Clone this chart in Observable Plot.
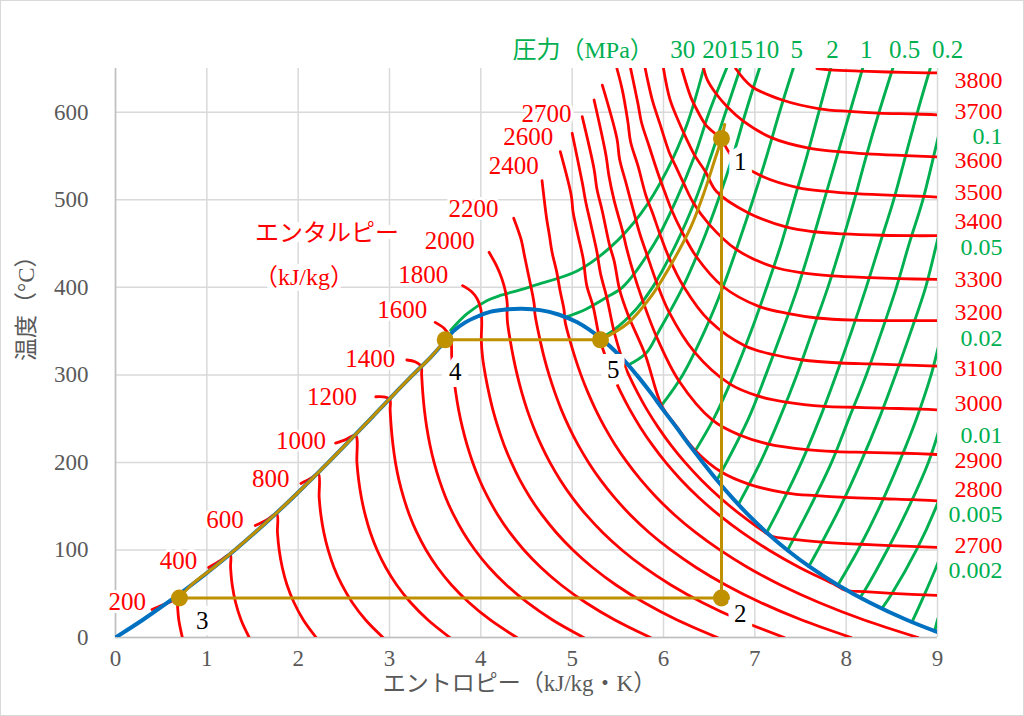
<!DOCTYPE html>
<html><head><meta charset="utf-8">
<script src="https://cdn.jsdelivr.net/npm/d3@7"></script>
<script src="https://cdn.jsdelivr.net/npm/@observablehq/plot@0.6"></script>
<style>
body{margin:0;background:#fff;}
#wrap{position:relative;width:1024px;height:716px;overflow:hidden;}
#wrap svg{display:block;}
#border{position:absolute;left:0;top:0;width:1024px;height:716px;box-sizing:border-box;border:1px solid #d9d9d9;pointer-events:none;}
</style></head>
<body><div id="wrap"><div id="border"></div></div>
<script>
// ---- axes ----
const xTicks = [0,1,2,3,4,5,6,7,8,9];
const yTicks = [0,100,200,300,400,500,600];

// ---- saturation dome [s, T] ----
const dome = [[0,0],[0.2965,20],[0.5724,40],[0.8313,60],[1.0756,80],[1.3072,100],[1.5279,120],[1.7392,140],[1.9426,160],[2.1392,180],[2.3305,200],[2.5177,220],[2.702,240],[2.8849,260],[3.0685,280],[3.2552,300],[3.4494,320],[3.62,340],[3.70,350],[3.83,360],[3.97,367],[4.10,372],[4.25,374.5],[4.45,375.5],[4.65,374],[4.85,369],[5.056,360],[5.31,342],[5.538,320],[5.706,300],[5.857,280],[5.997,260],[6.142,240],[6.282,220],[6.431,200],[6.584,180],[6.749,160],[6.929,140],[7.129,120],[7.354,100],[7.611,80],[7.908,60],[8.256,40],[8.666,20],[9.156,0]];

// ---- constant-enthalpy lines (kJ/kg) [s, T] ----
const h200 = [[0.40,32],[0.63,42],[0.675,44],[0.68,35],[0.693,20],[0.732,0]];
const h400 = [[1.02,80],[1.15,88],[1.255,95],[1.260,80],[1.278,60],[1.315,40],[1.375,20],[1.464,0]];
const h600 = [[1.53,128],[1.65,134],[1.765,141],[1.773,120],[1.792,100],[1.826,80],[1.878,60],[1.954,40],[2.057,20],[2.197,0]];
const h800 = [[2.03,176],[2.14,182],[2.221,187],[2.230,160],[2.249,140],[2.281,120],[2.328,100],[2.392,80],[2.479,60],[2.592,40],[2.739,20],[2.929,0]];
const h1000 = [[2.41,222],[2.52,226],[2.628,231],[2.643,200],[2.662,180],[2.692,160],[2.734,140],[2.790,120],[2.864,100],[2.959,80],[3.079,60],[3.231,40],[3.422,20],[3.661,0]];
const h1200 = [[2.85,275],[2.93,275],[3.003,272],[3.007,260],[3.019,240],[3.038,220],[3.065,200],[3.103,180],[3.154,160],[3.218,140],[3.299,120],[3.400,100],[3.525,80],[3.679,60],[3.870,40],[4.104,20],[4.393,0]];
const h1400 = [[3.19,317],[3.28,315],[3.346,310],[3.352,300],[3.364,280],[3.382,260],[3.408,240],[3.443,220],[3.488,200],[3.545,180],[3.615,160],[3.702,140],[3.808,120],[3.936,100],[4.091,80],[4.280,60],[4.508,40],[4.786,20],[5.125,0]];
const h1600 = [[3.50,360],[3.60,353],[3.668,342],[3.682,320],[3.700,300],[3.725,280],[3.757,260],[3.798,240],[3.849,220],[3.911,200],[3.986,180],[4.077,160],[4.186,140],[4.316,120],[4.472,100],[4.658,80],[4.880,60],[5.147,40],[5.468,20],[5.857,0]];
const h1800 = [[3.80,402],[3.90,395],[3.96,387],[4.00,375],[4.01,360],[4.005,340],[4.019,320],[4.049,300],[4.087,280],[4.132,260],[4.188,240],[4.254,220],[4.334,200],[4.427,180],[4.539,160],[4.670,140],[4.825,120],[5.008,100],[5.224,80],[5.480,60],[5.786,40],[6.150,20],[6.590,0]];
const h2000 = [[4.09,440],[4.17,425],[4.23,410],[4.27,395],[4.29,380],[4.287,370],[4.292,360],[4.321,340],[4.356,320],[4.398,300],[4.448,280],[4.507,260],[4.578,240],[4.660,220],[4.756,200],[4.869,180],[5.000,160],[5.154,140],[5.334,120],[5.544,100],[5.790,80],[6.081,60],[6.424,40],[6.833,20],[7.322,0]];
const h2200 = [[4.36,479],[4.44,455],[4.48,435],[4.52,415],[4.56,395],[4.585,380],[4.592,370],[4.608,360],[4.648,340],[4.693,320],[4.747,300],[4.810,280],[4.882,260],[4.967,240],[5.065,220],[5.179,200],[5.310,180],[5.462,160],[5.638,140],[5.842,120],[6.080,100],[6.357,80],[6.681,60],[7.063,40],[7.515,20],[8.054,0]];
const h2400 = [[4.67,522],[4.72,479],[4.75,460],[4.78,440],[4.83,418],[4.87,395],[4.91,375],[4.924,360],[4.974,340],[5.031,320],[5.096,300],[5.172,280],[5.258,260],[5.357,240],[5.471,220],[5.602,200],[5.752,180],[5.924,160],[6.122,140],[6.351,120],[6.616,100],[6.923,80],[7.281,60],[7.702,40],[8.197,20],[8.786,0]];
const h2600 = [[4.87,555],[4.99,505],[5.01,486],[5.06,461],[5.12,433],[5.16,402],[5.23,378],[5.30,342],[5.368,320],[5.445,300],[5.533,280],[5.633,260],[5.747,240],[5.877,220],[6.024,200],[6.193,180],[6.386,160],[6.606,140],[6.860,120],[7.152,100],[7.489,80],[7.882,60],[7.99,54],[8.2,52.5],[8.5,50.5],[9,48]];
const h2700 = [[5.00,576],[5.11,520],[5.15,497],[5.20,474],[5.27,441],[5.31,416],[5.38,388],[5.455,351],[5.52,327],[5.54,320],[5.620,300],[5.714,280],[5.820,260],[5.942,240],[6.079,220],[6.236,200],[6.414,180],[6.617,160],[6.848,140],[7.114,120],[7.18,116],[7.42,112],[7.74,109],[8.16,106.5],[8.48,105],[9,103]];
const h2800 = [[5.11,595],[5.24,535],[5.27,513],[5.33,487],[5.41,448],[5.46,430],[5.52,397],[5.61,369],[5.80,323],[5.98,265],[6.15,240],[6.345,214],[6.634,189],[6.94,175],[7.35,165],[7.67,162],[7.99,160],[8.41,158.5],[8.73,157.5],[9,156]];
const h2900 = [[5.24,614],[5.37,551],[5.40,529],[5.46,499],[5.55,465],[5.60,443],[5.67,417],[5.765,387],[5.918,345],[6.17,293],[6.54,248],[6.84,231],[7.15,221],[7.57,214.6],[7.885,212.4],[8.21,211.5],[8.63,210.5],[9,209]];
const h3000 = [[5.33,631],[5.49,570],[5.52,546],[5.59,519],[5.68,484],[5.74,461.5],[5.82,437],[5.92,407],[6.06,372],[6.34,326],[6.72,290],[7.03,276],[7.34,269],[7.76,264],[8.08,263],[8.40,262],[8.82,261],[9,260]];
const h3100 = [[5.49,650],[5.55,625],[5.61,589],[5.64,566],[5.72,539],[5.81,504],[5.88,485],[5.96,461],[6.06,434],[6.22,401],[6.50,362],[6.895,333],[7.21,323],[7.52,317],[7.94,313.6],[8.26,312.6],[8.58,311.5],[9,310]];
const h3200 = [[5.64,650],[5.72,610],[5.76,588],[5.84,562],[5.94,530],[6.01,510],[6.09,488],[6.20,464],[6.36,435],[6.65,401],[7.05,378],[7.37,370],[7.68,365],[8.10,362.5],[8.42,362],[8.74,362],[9,362]];
const h3300 = [[5.80,650],[5.83,635],[5.88,613],[5.96,587],[6.06,555],[6.13,539],[6.22,519],[6.33,496],[6.50,472],[6.80,443],[7.20,423.5],[7.52,416.5],[7.84,413],[8.256,411],[8.575,410],[9,409]];
const h3400 = [[6.00,650],[6.07,615],[6.18,586],[6.25,570],[6.34,551],[6.46,532],[6.58,509.5],[6.93,485],[7.34,469],[7.65,463.5],[7.97,461],[8.39,459.5],[8.71,459],[9,459]];
const h3500 = [[6.20,650],[6.30,617],[6.37,602],[6.46,586],[6.63,569],[6.756,549],[7.057,528],[7.47,514],[7.79,509.6],[8.11,507],[8.53,505],[8.85,504],[9,503]];
const h3600 = [[6.44,650],[6.48,637],[6.57,622],[6.70,606],[6.874,590],[7.18,571],[7.59,559],[7.91,555],[8.23,552.5],[8.65,550.5],[9,549]];
const h3700 = [[6.79,650],[6.96,630],[7.30,614],[7.71,604],[8.03,601],[8.35,599],[8.77,598],[9,597]];
const h3800 = [[7.68,650],[7.82,648.5],[8.14,647],[8.46,646],[8.88,645],[9,645]];

// ---- isobars (MPa) [s, T] ----
const p30 = [[3.67,351],[3.85,370],[4.07,385],[4.22,391],[4.43,397],[4.58,402],[5.06,419],[5.42,446],[5.75,484],[6.04,534],[6.26,587],[6.44,650]];
const p20 = [[4.93,366],[5.15,375],[5.40,390],[5.55,400],[5.90,450],[6.14,500],[6.34,550],[6.50,600],[6.69,650]];
const p15 = [[5.31,342],[5.44,350],[5.70,375],[5.88,400],[6.14,450],[6.35,500],[6.52,550],[6.68,600],[6.84,650]];
const p10 = [[5.61,311],[5.81,325],[5.95,350],[6.21,400],[6.42,450],[6.60,500],[6.76,550],[6.90,600],[7.05,650]];
const p5 = [[5.97,264],[6.21,300],[6.45,350],[6.65,400],[6.82,450],[6.98,500],[7.13,550],[7.27,600],[7.42,650]];
const p2 = [[6.34,212],[6.55,250],[6.77,300],[6.96,350],[7.13,400],[7.29,450],[7.43,500],[7.57,550],[7.70,600],[7.83,650]];
const p1 = [[6.585,180],[6.69,200],[6.93,250],[7.12,300],[7.30,350],[7.47,400],[7.62,450],[7.76,500],[7.90,550],[8.04,600],[8.18,650]];
const p05 = [[6.82,152],[7.06,200],[7.27,250],[7.46,300],[7.63,350],[7.80,400],[7.95,450],[8.09,500],[8.22,550],[8.36,600],[8.51,650]];
const p02 = [[7.13,120],[7.28,150],[7.51,200],[7.71,250],[7.89,300],[8.06,350],[8.22,400],[8.37,450],[8.52,500],[8.65,550],[8.78,600],[8.92,650]];
const p01 = [[7.36,100],[7.61,150],[7.84,200],[8.03,250],[8.22,300],[8.39,350],[8.55,400],[8.69,450],[8.84,500],[8.97,555],[9.05,590]];
const p005 = [[7.59,81],[7.69,100],[7.94,150],[8.16,200],[8.36,250],[8.54,300],[8.71,350],[8.87,400],[9.0,454],[9.05,475]];
const p002 = [[7.91,60],[8.13,100],[8.37,150],[8.58,200],[8.77,250],[8.93,300],[9.0,328],[9.04,345]];
const p001 = [[8.15,46],[8.18,50],[8.45,100],[8.69,150],[8.90,200],[9.0,231],[9.05,250]];
const p0005 = [[8.39,33],[8.50,50],[8.77,100],[9.0,153],[9.04,165]];
const p0002 = [[8.72,17.5],[8.84,45],[9.0,84],[9.04,95]];
const p0001 = [[8.97,7],[9.0,20],[9.03,28]];

// ---- Rankine cycle [s, T] ----
const cycleLiquid = [[0.70,45],[0.83,60],[1.0756,80],[1.3072,100],[1.5279,120],[1.7392,140],[1.9426,160],[2.1392,180],[2.3305,200],[2.5177,220],[2.702,240],[2.8849,260],[3.0685,280],[3.2552,300],[3.4494,320],[3.61,340]];
const cycleBoil = [[3.61,340],[5.31,340]];
const cycleSuperheat = [[5.31,340],[5.61,359],[5.86,389],[6.11,431],[6.30,469],[6.44,507],[6.55,542],[6.635,570],[6.67,586]];
const cycleExpand = [[6.635,570],[6.635,45]];
const cycleCondense = [[6.635,45],[0.70,45]];
const cyclePointS = [6.635,6.635,0.70,3.61,5.31];
const cyclePointT = [570,45,45,340,340];
const cycleLabels = ["1","2","3","4","5"];
const cycleLabelS = [6.84,6.84,0.95,3.72,5.45];
const cycleLabelT = [543,27,19,303,306];

// ---- labels ----
const leftHLabels = ["200","400","600","800","1000","1200","1400","1600","1800","2000","2200","2400","2600","2700"];
const leftHLabelS = [0.13,0.69,1.20,1.70,2.03,2.37,2.79,3.14,3.37,3.66,3.92,4.36,4.52,4.72];
const leftHLabelT = [40,87,134.5,181,224,275,318.5,374,414,452.5,489,539,572,598.5];
const rightHLabels = ["3800","3700","3600","3500","3400","3300","3200","3100","3000","2900","2800","2700"];
const rightHLabelT = [636.6,601.5,545,509,475,409,372,307,267,202,169.5,105];
const rightPLabels = ["0.1","0.05","0.02","0.01","0.005","0.002"];
const rightPLabelT = [572,446,342,231,140.5,77];
const topPLabels = ["30","20","15","10","5","2","1","0.5","0.2"];
const topPLabelS = [6.21,6.56,6.84,7.13,7.46,7.85,8.22,8.64,9.11];
const pressureTitle = "圧力（MPa）";
const pressureTitleS = 5.12;
const enthalpyTitle = ["エンタルピー","（kJ/kg）"];
const enthalpyTitleS = [2.315,2.064];
const enthalpyTitleT = [461.7,411.4];
const xTitle = "エントロピー（kJ/kg・K）";
const yTitle = "温度（°C）";

// ---- build tables ----
const hCurves = [h200,h400,h600,h800,h1000,h1200,h1400,h1600,h1800,h2000,h2200,h2400,h2600,h2700,h2800,h2900,h3000,h3100,h3200,h3300,h3400,h3500,h3600,h3700,h3800];
const pCurves = [p30,p20,p15,p10,p5,p2,p1,p05,p02,p01,p005,p002,p001,p0005,p0002,p0001];
const cycleCurves = [cycleLiquid,cycleBoil,cycleSuperheat,cycleExpand,cycleCondense];
const rows = (curves) => curves.flatMap((c,i) => c.map(([s,t]) => ({s,t,id:i})));
const hRows = rows(hCurves), pRows = rows(pCurves), cRows = rows(cycleCurves);
const domeRows = dome.map(([s,t]) => ({s,t}));
const idx = (a) => a.map((_,i) => i);

const RED = "#FF0000", GREEN = "#00B050", BLUE = "#0070C0", GOLD = "#BF9000", GRAY = "#595959";
const SERIF = '"Liberation Serif","Noto Sans CJK JP",serif';

const chart = Plot.plot({
  width: 1024, height: 716,
  marginLeft: 115, marginRight: 87, marginTop: 68, marginBottom: 79,
  x: {domain: [0, 9], axis: null},
  y: {domain: [0, 650], axis: null},
  style: {fontFamily: SERIF, fontSize: "23px", background: "transparent", overflow: "visible"},
  marks: [
    Plot.gridX(xTicks, {stroke: "#d9d9d9", strokeOpacity: 1, strokeWidth: 1.5}),
    Plot.gridY(yTicks, {stroke: "#d9d9d9", strokeOpacity: 1, strokeWidth: 1.5}),
    Plot.ruleX([0], {stroke: "#bfbfbf", strokeWidth: 1.5}),
    Plot.ruleY([0], {stroke: "#bfbfbf", strokeWidth: 1.5}),
    Plot.line(pRows, {x: "s", y: "t", z: "id", stroke: GREEN, strokeWidth: 2.9, curve: "catmull-rom", clip: true}),
    Plot.line(hRows, {x: "s", y: "t", z: "id", stroke: RED, strokeWidth: 2.8, curve: "catmull-rom", clip: true}),
    Plot.line(domeRows, {x: "s", y: "t", stroke: BLUE, strokeWidth: 4, curve: "catmull-rom", clip: true}),
    Plot.line(cRows, {x: "s", y: "t", z: "id", stroke: GOLD, strokeWidth: 3, curve: "catmull-rom", clip: true}),
    Plot.dot(idx(cyclePointS), {x: i => cyclePointS[i], y: i => cyclePointT[i], r: 8.5, fill: GOLD, stroke: "none"}),
    // cycle point labels (white boxes)
    Plot.text(idx(cycleLabels), {x: i => cycleLabelS[i], y: i => cycleLabelT[i], text: i => cycleLabels[i], fill: "black", stroke: "white", strokeWidth: 14, strokeLinejoin: "miter", paintOrder: "stroke", fontSize: 25}),
    // enthalpy labels on the left
    Plot.text(idx(leftHLabels), {x: i => leftHLabelS[i], y: i => leftHLabelT[i], text: i => leftHLabels[i], fill: RED, stroke: "white", strokeWidth: 6, paintOrder: "stroke", fontSize: 25}),
    Plot.text(idx(enthalpyTitle), {x: i => enthalpyTitleS[i], y: i => enthalpyTitleT[i], text: i => enthalpyTitle[i], fill: RED, stroke: "white", strokeWidth: 12, paintOrder: "stroke", fontSize: 24}),
    // right-hand labels
    Plot.text(idx(rightHLabels), {y: i => rightHLabelT[i], text: i => rightHLabels[i], frameAnchor: "right", dx: 65, textAnchor: "end", fill: RED, fontSize: 24}),
    Plot.text(idx(rightPLabels), {y: i => rightPLabelT[i], text: i => rightPLabels[i], frameAnchor: "right", dx: 65, textAnchor: "end", fill: GREEN, fontSize: 24}),
    // pressure labels on top
    Plot.text(idx(topPLabels), {x: i => topPLabelS[i], text: i => topPLabels[i], frameAnchor: "top", dy: -28, fill: GREEN, fontSize: 25}),
    Plot.text([pressureTitle], {x: () => pressureTitleS, text: d => d, frameAnchor: "top", dy: -28, fill: GREEN, fontSize: 24}),
    // tick labels
    Plot.text(xTicks, {x: d => d, text: d => String(d), frameAnchor: "bottom", dy: 28, fill: GRAY, fontSize: 23}),
    Plot.text(yTicks, {y: d => d, text: d => String(d), frameAnchor: "left", dx: -27, textAnchor: "end", fill: GRAY, fontSize: 23}),
    // axis titles
    Plot.text([xTitle], {text: d => d, frameAnchor: "bottom", dy: 53, dx: -7, fill: GRAY, fontSize: 23}),
    Plot.text([yTitle], {text: d => d, frameAnchor: "left", dx: -89, dy: 8, rotate: -90, fill: GRAY, fontSize: 23})
  ]
});
document.getElementById("wrap").prepend(chart);
</script>
</body></html>
